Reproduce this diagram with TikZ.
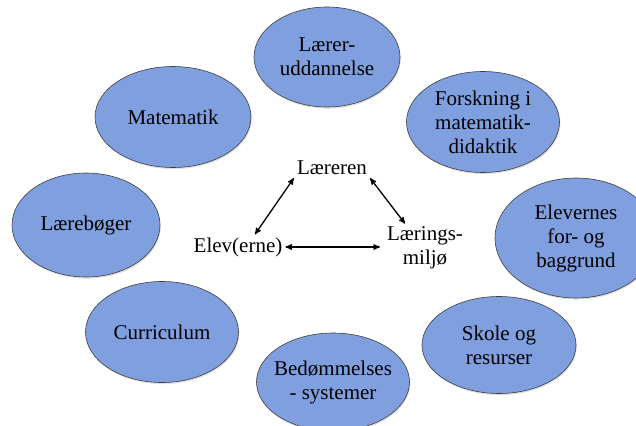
\documentclass[tikz,border=0pt]{standalone}
\usepackage{fontspec}
\setmainfont{Liberation Serif}
\usepackage{tikz}
\usetikzlibrary{arrows,shapes.geometric,shadows}
\definecolor{ovalblue}{RGB}{127,159,223}
\tikzstyle{topic} = [ellipse,draw=black!75,line width=0.6pt,fill=ovalblue,
	inner sep=-12pt,align=center,font=\fontsize{21}{24}\selectfont,
	drop shadow={shadow xshift=0.8pt,shadow yshift=-1.6pt,opacity=0.25}]
\tikzstyle{corner} = [align=center,inner sep=3pt,font=\fontsize{21}{24}\selectfont]
\tikzstyle{arrow} = [line width=1.3pt,<->,>=stealth']

\begin{document}
\begin{tikzpicture}[x=1pt,y=-1pt]
	\useasboundingbox (0,0) rectangle (636,425);
	
	% outer ring
	\node[topic,minimum width=146pt,minimum height=100pt] (udd) at (327,57) {Lærer-\\uddannelse};
	\node[topic,minimum width=156pt,minimum height=101pt] (mat) at (173,117) {Matematik};
	\node[topic,minimum width=153pt,minimum height=101pt] (forsk) at (483,122) {Forskning i\\matematik-\\didaktik};
	\node[topic,minimum width=148pt,minimum height=104pt] (bog) at (86,225) {Lærebøger};
	\node[topic,minimum width=162pt,minimum height=120pt] (bagg) at (576,238) {Elevernes\\for- og\\baggrund};
	\node[topic,minimum width=153pt,minimum height=101pt] (curr) at (162,332) {Curriculum};
	\node[topic,minimum width=153pt,minimum height=98pt] (bed) at (333,382) {Bedømmelses\\- systemer};
	\node[topic,minimum width=154pt,minimum height=97pt] (skole) at (499,345) {Skole og\\resurser};
	
	% triangle
	\node[corner] (laer) at (332,168) {Læreren};
	\node[corner] (elev) at (238,247) {Elev(erne)};
	\node[corner] (miljo) at (425,248) {Lærings-\\miljø};
	
	\path (laer.south west) edge[arrow] ([xshift=17pt]elev.north)
	(laer.south east) edge[arrow] ([xshift=-20pt]miljo.north)
	(elev.east) edge[arrow,shorten >=4pt] (elev.east -| miljo.west);
\end{tikzpicture}
\end{document}
